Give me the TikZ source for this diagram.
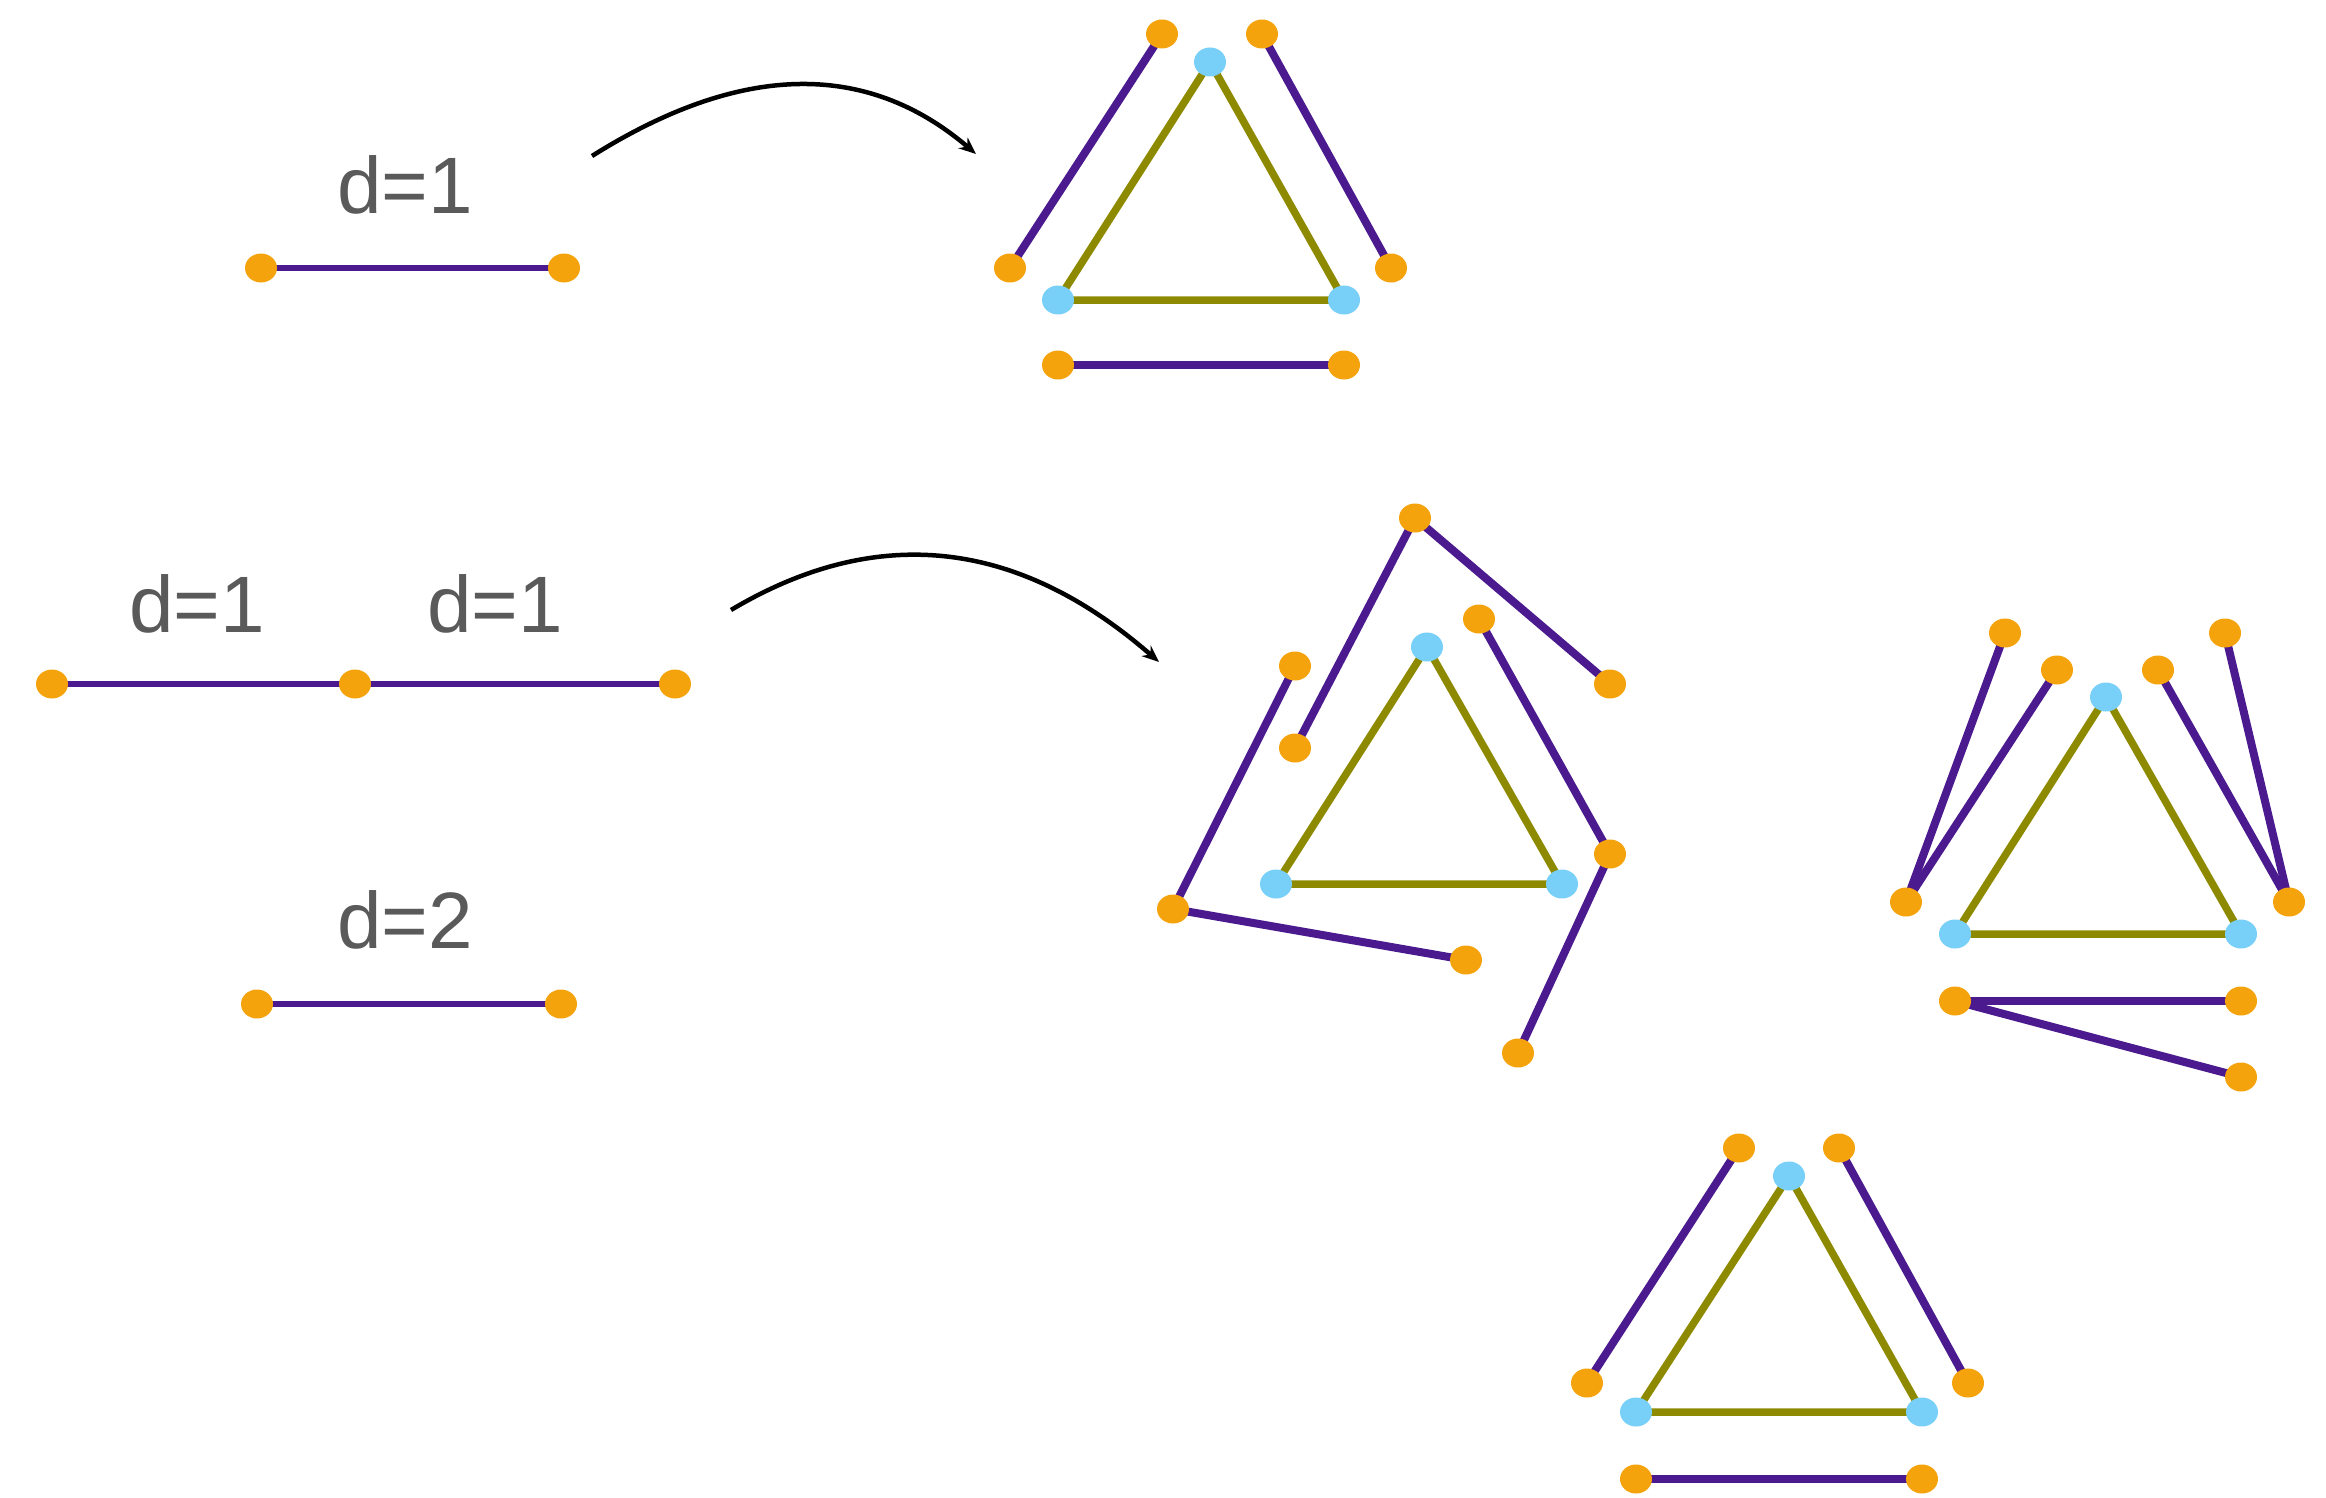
\documentclass[tikz,border=0pt]{standalone}
\usepackage{fontspec}
\setmainfont{Liberation Sans}
\usetikzlibrary{backgrounds,arrows.meta,shapes.geometric}
\definecolor{dotorange}{HTML}{F5A30C}
\definecolor{dotcyan}{HTML}{78D0F8}
\definecolor{edgepurple}{HTML}{4A1A8E}
\definecolor{edgeolive}{HTML}{8E8A00}
\definecolor{textgray}{HTML}{5A5A5A}
\begin{document}
\begin{tikzpicture}[x=1pt,y=-1pt,
  odot/.style={shape=ellipse,minimum width=32pt,minimum height=29pt,inner sep=0pt,fill=dotorange,draw=none},
  cdot/.style={shape=ellipse,minimum width=32pt,minimum height=29pt,inner sep=0pt,fill=dotcyan,draw=none},
  pline/.style={draw=edgepurple,line width=8pt},
  pthin/.style={draw=edgepurple,line width=5.5pt},
  oline/.style={draw=edgeolive,line width=7.5pt,line join=round},
  lbl/.style={text=textgray,inner sep=0pt,font=\fontsize{80}{96}\selectfont},
  curvearrow/.style={draw=black,line width=4.5pt,-{Stealth[length=17pt,width=14pt]}}]
\useasboundingbox (0,0) rectangle (2326,1498);

% ---------- left side ----------
\node[lbl] (t1) at (405,185) {d=1};
\node[odot] (a1) at (261,268) {};
\node[odot] (a2) at (564,268) {};

\node[lbl] (t2) at (197,604) {d=1};
\node[lbl] (t3) at (495,604) {d=1};
\node[odot] (b1) at (52,684) {};
\node[odot] (b2) at (355,684) {};
\node[odot] (b3) at (675,684) {};

\node[lbl] (t4) at (405,920) {d=2};
\node[odot] (c1) at (257,1004) {};
\node[odot] (c2) at (561,1004) {};

% ---------- arrows ----------
\coordinate (r1s) at (592,156);
\coordinate (r1e) at (976,154);
\coordinate (r2s) at (731,610);
\coordinate (r2e) at (1159,662);
\draw[curvearrow] (r1s) .. controls (740,63) and (866,60) .. (r1e);
\draw[curvearrow] (r2s) .. controls (877,523) and (1018,539) .. (r2e);

% ---------- triangle 1 (top) ----------
\node[cdot] (p1a) at (1210,62) {};
\node[cdot] (p1b) at (1058,300) {};
\node[cdot] (p1c) at (1344,300) {};
\node[odot] (q1a) at (1162,34) {};
\node[odot] (q1b) at (1010,268) {};
\node[odot] (q1c) at (1262,34) {};
\node[odot] (q1d) at (1391,268) {};
\node[odot] (q1e) at (1058,365) {};
\node[odot] (q1f) at (1344,365) {};

% ---------- triangle 2 (middle) ----------
\node[cdot] (p2a) at (1427,647) {};
\node[cdot] (p2b) at (1276,884) {};
\node[cdot] (p2c) at (1562,884) {};
\node[odot] (q2a) at (1415,518) {};
\node[odot] (q2b) at (1610,684) {};
\node[odot] (q2c) at (1295,666) {};
\node[odot] (q2d) at (1295,748) {};
\node[odot] (q2e) at (1479,619) {};
\node[odot] (q2f) at (1610,854) {};
\node[odot] (q2g) at (1173,909) {};
\node[odot] (q2h) at (1466,960) {};
\node[odot] (q2i) at (1518,1053) {};

% ---------- triangle 3 (right) ----------
\node[cdot] (p3a) at (2106,697) {};
\node[cdot] (p3b) at (1955,934) {};
\node[cdot] (p3c) at (2241,934) {};
\node[odot] (q3a) at (2005,633) {};
\node[odot] (q3b) at (2057,670) {};
\node[odot] (q3c) at (2158,670) {};
\node[odot] (q3d) at (2225,633) {};
\node[odot] (q3e) at (1906,902) {};
\node[odot] (q3f) at (2289,902) {};
\node[odot] (q3g) at (1955,1001) {};
\node[odot] (q3h) at (2241,1001) {};
\node[odot] (q3i) at (2241,1077) {};

% ---------- triangle 4 (bottom) ----------
\node[cdot] (p4a) at (1789,1176) {};
\node[cdot] (p4b) at (1636,1412) {};
\node[cdot] (p4c) at (1922,1412) {};
\node[odot] (q4a) at (1739,1148) {};
\node[odot] (q4b) at (1839,1148) {};
\node[odot] (q4c) at (1587,1383) {};
\node[odot] (q4d) at (1968,1383) {};
\node[odot] (q4e) at (1636,1479) {};
\node[odot] (q4f) at (1922,1479) {};

\begin{pgfonlayer}{background}
  \draw[pthin] (a1.center) -- (a2.center);
  \draw[pthin] (b1.center) -- (b2.center);
  \draw[pthin] (b2.center) -- (b3.center);
  \draw[pthin] (c1.center) -- (c2.center);

  \draw[oline] (p1a.center) -- (p1b.center) -- (p1c.center) -- cycle;
  \draw[pline] (q1a.center) -- (q1b.center);
  \draw[pline] (q1c.center) -- (q1d.center);
  \draw[pline] (q1e.center) -- (q1f.center);

  \draw[oline] (p2a.center) -- (p2b.center) -- (p2c.center) -- cycle;
  \draw[pline] (q2a.center) -- (q2d.center);
  \draw[pline] (q2a.center) -- (q2b.center);
  \draw[pline] (q2c.center) -- (q2g.center);
  \draw[pline] (q2g.center) -- (q2h.center);
  \draw[pline] (q2e.center) -- (q2f.center);
  \draw[pline] (q2f.center) -- (q2i.center);

  \draw[oline] (p3a.center) -- (p3b.center) -- (p3c.center) -- cycle;
  \draw[pline] (q3a.center) -- (q3e.center);
  \draw[pline] (q3b.center) -- (q3e.center);
  \draw[pline] (q3c.center) -- (q3f.center);
  \draw[pline] (q3d.center) -- (q3f.center);
  \draw[pline] (q3g.center) -- (q3h.center);
  \draw[pline] (q3g.center) -- (q3i.center);

  \draw[oline] (p4a.center) -- (p4b.center) -- (p4c.center) -- cycle;
  \draw[pline] (q4a.center) -- (q4c.center);
  \draw[pline] (q4b.center) -- (q4d.center);
  \draw[pline] (q4e.center) -- (q4f.center);
\end{pgfonlayer}
\end{tikzpicture}
\end{document}
